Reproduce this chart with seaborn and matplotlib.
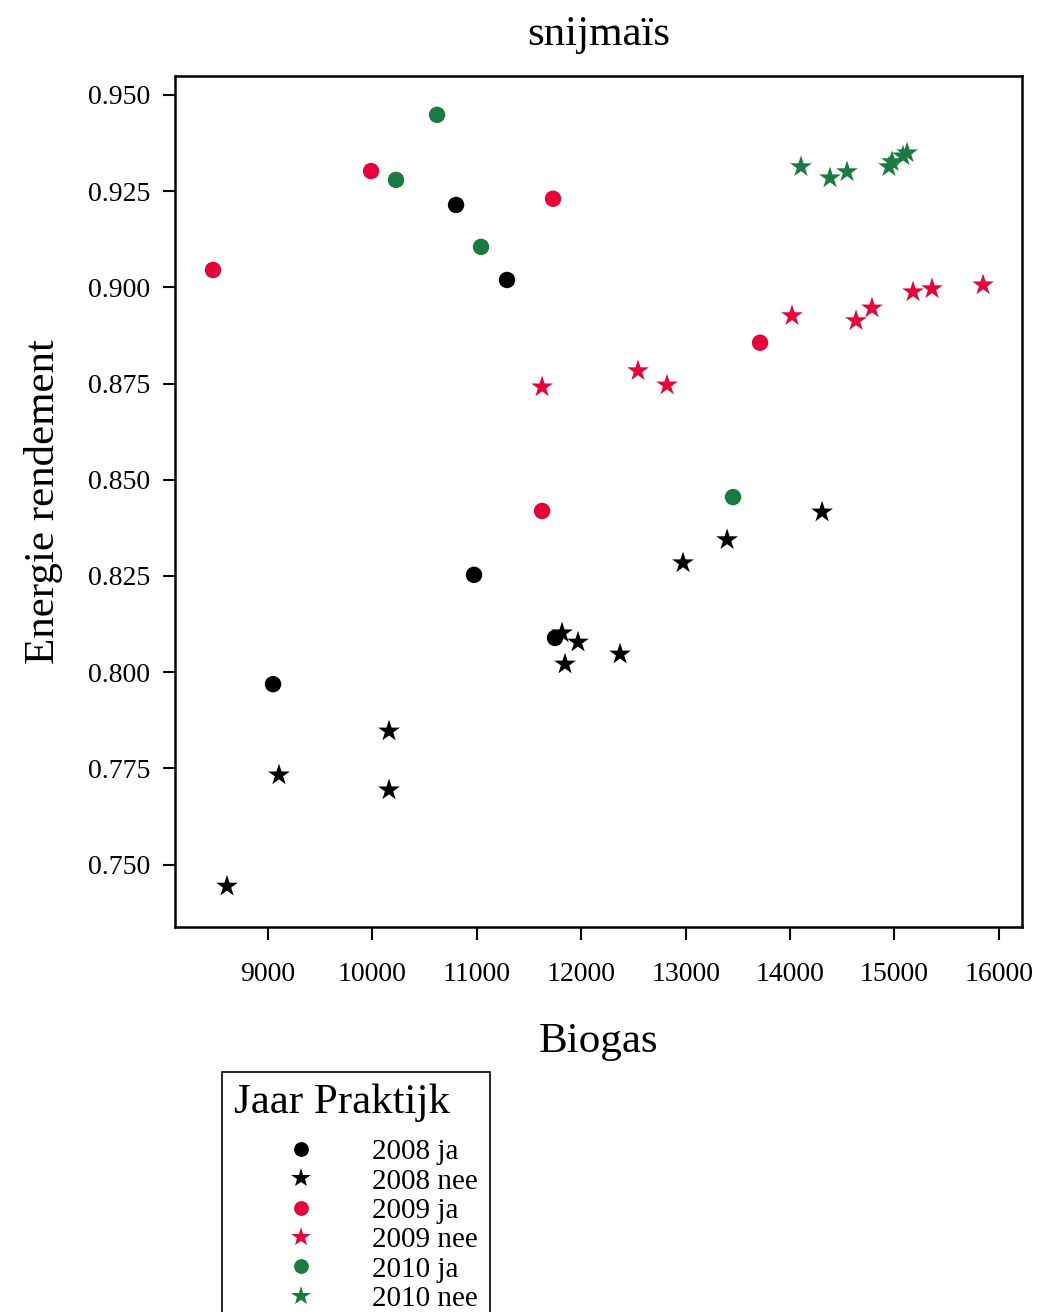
import numpy as np
import pandas as pd
import matplotlib
matplotlib.use("Agg")
import matplotlib.pyplot as plt
import seaborn as sns

# groepen (jaar + praktijk)
groepen = ["2008 ja", "2008 nee", "2009 ja", "2009 nee", "2010 ja", "2010 nee"]
kleuren = ["#000000", "#000000", "#E5053A", "#E5053A", "#1B7A3F", "#1B7A3F"]
vormen = ["o", "*", "o", "*", "o", "*"]
groottes = [140, 270, 140, 270, 140, 270]

biogas_2008_ja = [10801, 11289, 10973, 9048, 11749]
rend_2008_ja = [0.9214, 0.9019, 0.8253, 0.7969, 0.8089]

biogas_2008_nee = [8607, 9105, 10159, 10159, 11816, 11969, 11845, 12372, 12975, 13397, 14307]
rend_2008_nee = [0.7444, 0.7733, 0.7847, 0.7694, 0.8102, 0.8078, 0.8021, 0.8047, 0.8284, 0.8344, 0.8416]

biogas_2009_ja = [8473, 9987, 11730, 13713, 11625]
rend_2009_ja = [0.9045, 0.9302, 0.9230, 0.8856, 0.8419]

biogas_2009_nee = [11625, 12544, 12822, 14019, 14632, 14785, 15178, 15360, 15849]
rend_2009_nee = [0.8741, 0.8783, 0.8746, 0.8926, 0.8913, 0.8946, 0.8988, 0.8996, 0.9006]

biogas_2010_ja = [10619, 10226, 11040, 13454]
rend_2010_ja = [0.9448, 0.9279, 0.9105, 0.8455]

biogas_2010_nee = [14105, 14383, 14546, 14948, 14977, 15082, 15121]
rend_2010_nee = [0.9313, 0.9284, 0.9300, 0.9313, 0.9326, 0.9341, 0.9349]

alle_biogas = [biogas_2008_ja, biogas_2008_nee, biogas_2009_ja,
               biogas_2009_nee, biogas_2010_ja, biogas_2010_nee]
alle_rend = [rend_2008_ja, rend_2008_nee, rend_2009_ja,
             rend_2009_nee, rend_2010_ja, rend_2010_nee]

rows = []
for g, xs, ys in zip(groepen, alle_biogas, alle_rend):
    for x, y in zip(xs, ys):
        rows.append({"Biogas": x, "Energie rendement": y, "Jaar Praktijk": g})
df = pd.DataFrame(rows)

sns.set_style("ticks", {"axes.edgecolor": "black", "xtick.color": "black",
                        "ytick.color": "black", "text.color": "black",
                        "axes.labelcolor": "black"})
plt.rcParams["font.family"] = ["Liberation Serif", "DejaVu Serif"]

fig = plt.figure(figsize=(10.38, 13.12), dpi=100)
ax = fig.add_axes([0.1686, 0.2934, 0.816, 0.6487])

sns.scatterplot(data=df, x="Biogas", y="Energie rendement",
                hue="Jaar Praktijk", style="Jaar Praktijk", size="Jaar Praktijk",
                hue_order=groepen, style_order=groepen, size_order=groepen,
                palette=dict(zip(groepen, kleuren)),
                markers=dict(zip(groepen, vormen)),
                sizes=dict(zip(groepen, groottes)),
                linewidth=0, ax=ax)

ax.set_xlim(8109, 16222)
ax.set_ylim(0.7338, 0.9549)
ax.set_xticks([9000, 10000, 11000, 12000, 13000, 14000, 15000, 16000])
ax.set_yticks([0.750, 0.775, 0.800, 0.825, 0.850, 0.875, 0.900, 0.925, 0.950])
ax.set_yticklabels([f"{v:.3f}" for v in ax.get_yticks()])

for s in ax.spines.values():
    s.set_visible(True)
    s.set_linewidth(1.8)
    s.set_color("black")
ax.tick_params(axis="both", length=9, width=1.5, labelsize=20, colors="black")
ax.tick_params(axis="x", pad=16)
ax.tick_params(axis="y", pad=9)

ax.set_title("snijmaïs", fontsize=31, pad=22, color="black")
ax.set_xlabel("Biogas", fontsize=31, labelpad=26, color="black")
ax.set_ylabel("Energie rendement", fontsize=31, labelpad=18, color="black")

sns.move_legend(ax, "upper left", bbox_to_anchor=(222 / 1038, 1 - 1072 / 1312),
                bbox_transform=fig.transFigure, title="Jaar Praktijk",
                fontsize=21, title_fontsize=31, frameon=True, fancybox=False,
                edgecolor="black", framealpha=1, handlelength=4.6,
                handletextpad=0.15, labelspacing=0.1, borderpad=0.4,
                borderaxespad=0, alignment="left", markerscale=0.9)
leg = ax.get_legend()
leg.get_frame().set_linewidth(1.2)
leg._legend_box.sep = 12  # wat meer ruimte onder de titel
for t in leg.get_texts():
    t.set_color("black")
leg.get_title().set_color("black")

plt.savefig("out.png", dpi=100)
